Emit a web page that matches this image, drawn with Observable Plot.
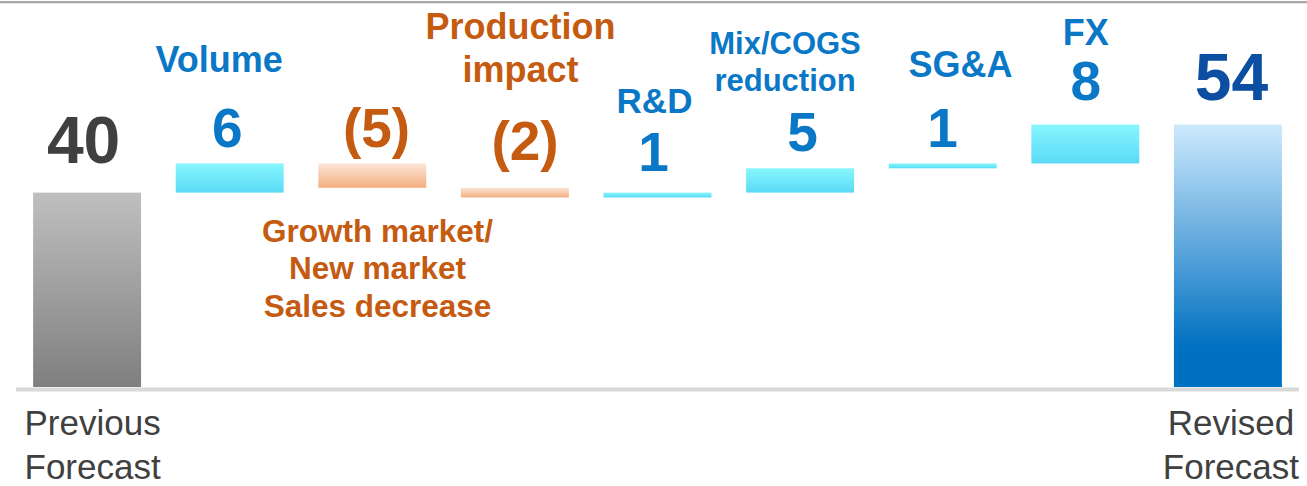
<!DOCTYPE html>
<html><head><meta charset="utf-8">
<script src="https://cdn.jsdelivr.net/npm/d3@7"></script>
<script src="https://cdn.jsdelivr.net/npm/@observablehq/plot@0.6"></script>
<style>
html,body{margin:0;padding:0;background:#fff;}
#wrap{position:relative;width:1307px;height:486px;overflow:hidden;background:#fff;}
#topline{position:absolute;left:0;top:1px;width:1307px;height:2px;background:#a8a8a8;box-shadow:0 1px 0 #e6e6e6;z-index:2;}
#wrap svg{display:block;}
</style></head><body><div id="wrap"><div id="topline"></div></div>
<script>
// ---- data ----
const categories = ["Previous Forecast","Volume","Growth market/New market Sales decrease","Production impact","R&D","Mix/COGS reduction","SG&A","FX","Revised Forecast"];
const kinds = ["start","up","down","down","up","up","up","up","end"];
const values = [40, 6, -5, -2, 1, 5, 1, 8, 54];
const valueLabels = ["40","6","(5)","(2)","1","5","1","8","54"];
const stepLabels = ["", "Volume", "Growth market/\nNew market\nSales decrease", "Production\nimpact", "R&D", "Mix/COGS\nreduction", "SG&A", "FX", ""];
const axisLabels = ["Previous\nForecast","","","","","","","","Revised\nForecast"];

// ---- derived waterfall table ----
let run = 0;
const rows = categories.map((c, i) => {
  let y1, y2;
  if (kinds[i] === "start" || kinds[i] === "end") { y1 = 0; y2 = values[i]; run = values[i]; }
  else { y1 = run; y2 = run + values[i]; run = y2; }
  return {i, category: c, kind: kinds[i], y1, y2, top: Math.max(y1, y2), bottom: Math.min(y1, y2),
          value: valueLabels[i], step: stepLabels[i], axis: axisLabels[i]};
});

// ---- styles / layout ----
const BLUE = "#0a78c6", ORANGE = "#c55a11";
const gradientOf = {start: "url(#gStart)", up: "url(#gUp)", down: "url(#gDown)", end: "url(#gEnd)"};
const valueStyle = [
  {dx: -4, dy: -30, size: 66, fill: "#404040"},
  {dx: -3, dy: -16.7, size: 55, fill: BLUE},
  {dx: 3.7, dy: -16.7, size: 55, fill: ORANGE},
  {dx: 9.6, dy: -28.4, size: 55, fill: ORANGE},
  {dx: -4.5, dy: -22.6, size: 55, fill: BLUE},
  {dx: 2, dy: -18.3, size: 55, fill: BLUE},
  {dx: -0.7, dy: -16.7, size: 55, fill: BLUE},
  {dx: 0, dy: -25.3, size: 55, fill: BLUE},
  {dx: 3, dy: -24.6, size: 66, fill: "#0b4ea2"}
];
const stepStyle = [
  null,
  {dx: -11, dy: -91.7, size: 36, lh: 1.2, fill: BLUE},
  {dx: 4.7, dy: 153.3, size: 31.5, lh: 1.2, fill: ORANGE},
  {dx: 5, dy: -106, size: 36, lh: 1.2, fill: ORANGE},
  {dx: -3.5, dy: -80.3, size: 35, lh: 1.2, fill: BLUE},
  {dx: -15.6, dy: -78.3, size: 31, lh: 1.18, fill: BLUE},
  {dx: 17.3, dy: -87.4, size: 36, lh: 1.2, fill: BLUE},
  {dx: 0, dy: -80, size: 36, lh: 1.2, fill: BLUE},
  null
];
const axisStyle = {0: {dx: 5}, 8: {dx: 2.5}};

const marks = [
  Plot.barY(rows, {x: "category", y1: "y1", y2: "y2", fill: d => gradientOf[d.kind]}),
  Plot.ruleY([0], {stroke: "#d9d9d9", strokeWidth: 4, dy: 2})
];
rows.forEach((r, i) => {
  const v = valueStyle[i];
  marks.push(Plot.text([r], {x: "category", y: "top", text: "value", dx: v.dx, dy: v.dy,
    fontSize: v.size, fontWeight: "bold", fill: v.fill, lineAnchor: "bottom", textAnchor: "middle"}));
  const s = stepStyle[i];
  if (s) marks.push(Plot.text([r], {x: "category", y: "top", text: "step", dx: s.dx, dy: s.dy,
    fontSize: s.size, lineHeight: s.lh, fontWeight: "bold", fill: s.fill, lineAnchor: "bottom", textAnchor: "middle"}));
  if (r.axis) marks.push(Plot.text([r], {x: "category", y: "bottom", text: "axis", dx: axisStyle[i].dx, dy: 91,
    fontSize: 35, lineHeight: 1.23, fill: "#404040", lineAnchor: "bottom", textAnchor: "middle"}));
});

const chart = Plot.plot({
  width: 1307, height: 486,
  marginTop: 0, marginBottom: 99, marginLeft: 16, marginRight: 8,
  style: {fontFamily: "'Liberation Sans', Arial, sans-serif", background: "white", overflow: "visible"},
  x: {domain: categories, paddingInner: 0.243, paddingOuter: 0.12, round: false, axis: null},
  y: {domain: [0, 387 / 4.86], axis: null},
  color: {type: "identity"},
  marks
});

const defs = d3.select(chart).insert("defs", ":first-child");
function grad(id, stops) {
  const g = defs.append("linearGradient").attr("id", id).attr("x1", 0).attr("y1", 0).attr("x2", 0).attr("y2", 1);
  stops.forEach(([o, c]) => g.append("stop").attr("offset", o).attr("stop-color", c));
}
grad("gStart", [[0, "#bfbfbf"], [1, "#7f7f7f"]]);
grad("gUp", [[0, "#88f6fd"], [1, "#5adaf7"]]);
grad("gDown", [[0, "#fce6d8"], [1, "#f4ae80"]]);
grad("gEnd", [[0, "#cde9fd"], [0.85, "#0070c0"], [1, "#0070c0"]]);

document.getElementById("wrap").appendChild(chart);
</script></body></html>
